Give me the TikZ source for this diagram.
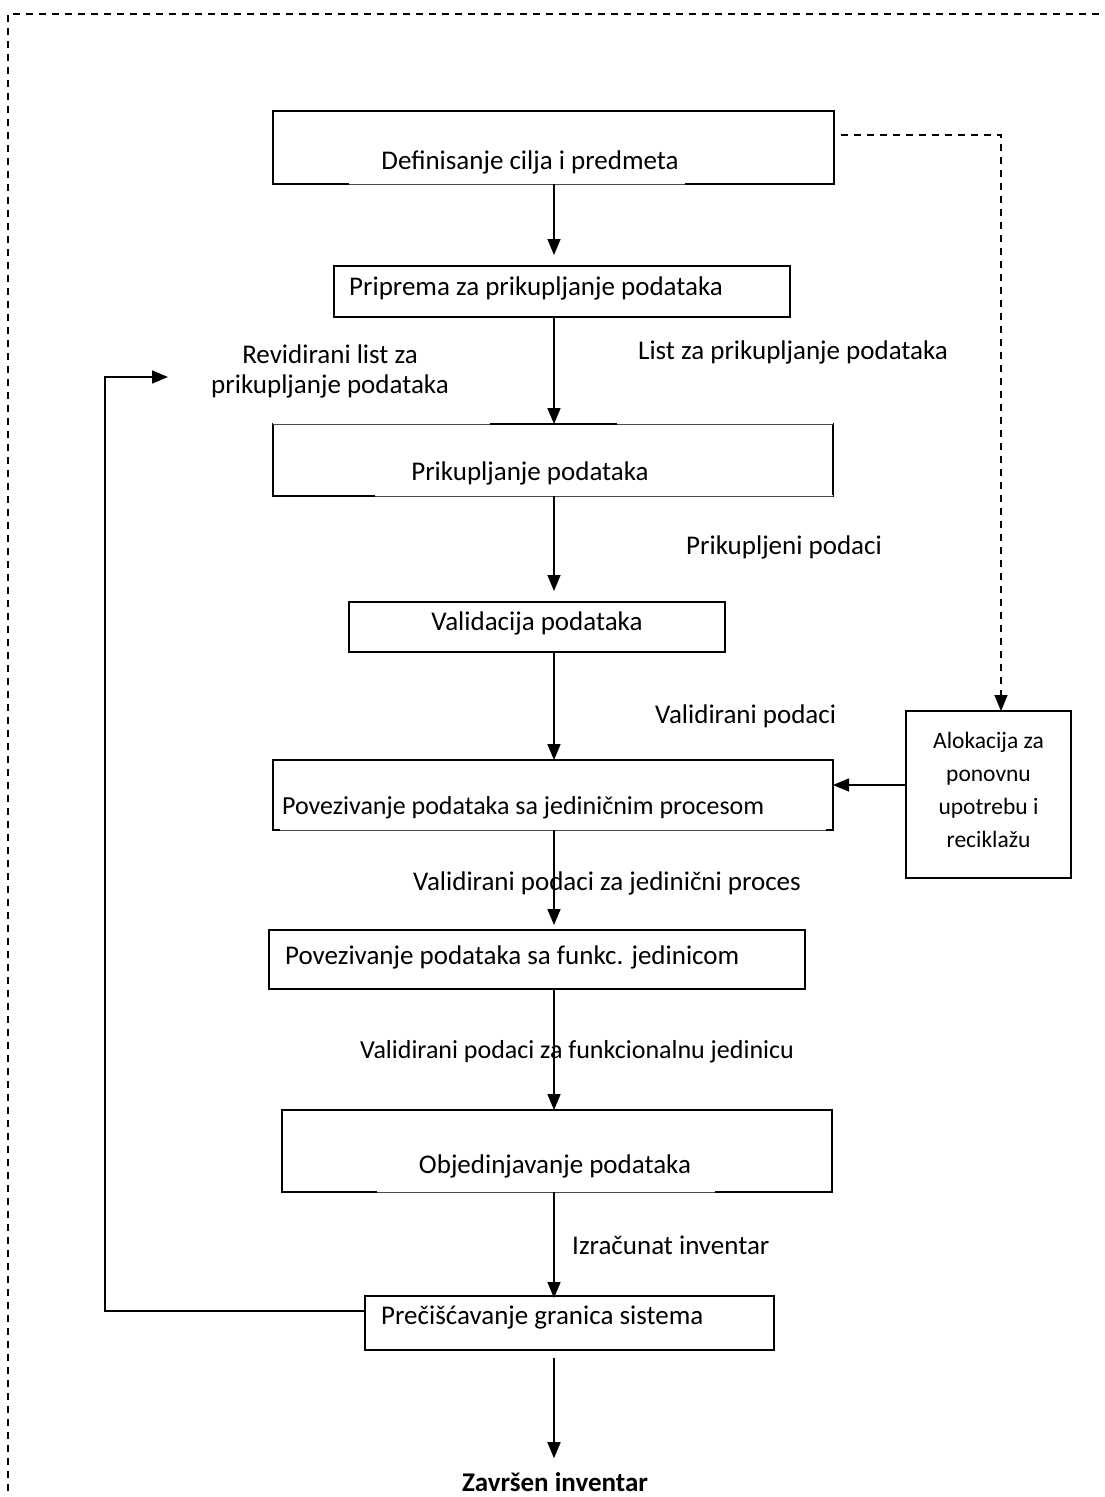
\documentclass[tikz,border=0pt]{standalone}
\usepackage{fontspec}
\setmainfont{Carlito}
\usetikzlibrary{arrows.meta,calc}
\begin{document}
\begin{tikzpicture}[x=1pt,y=-1pt,
  box/.style={draw,line width=1.6pt,inner sep=0pt,outer sep=0pt},
  txt/.style={font=\fontsize{27}{32}\selectfont,inner sep=0pt},
  arr/.style={line width=1.6pt,-{Triangle[length=16pt,width=13pt]}},
  dasharr/.style={line width=1.6pt,dash pattern=on 7pt off 6pt,-{Triangle[length=16pt,width=13pt]}},
  frame/.style={line width=1.4pt,dash pattern=on 7pt off 6pt},
  thin/.style={line width=0.9pt,draw=black!70}]
\useasboundingbox (0,0) rectangle (1104,1497);
\clip (0,0) rectangle (1104,1497);

% outer dashed frame
\draw[frame] (8,1530) -- (8,14) -- (1130,14);

% main column of steps
\node[box,minimum width=561pt,minimum height=73pt] (b1) at (553.5,147.5) {};
\node[box,minimum width=456pt,minimum height=51pt] (b2) at (562,291.5) {};
\node[box,minimum width=560pt,minimum height=72pt] (b3) at (553,460) {};
\node[box,minimum width=376pt,minimum height=50pt] (b4) at (537,627) {};
\node[box,minimum width=560pt,minimum height=70pt] (b5) at (553,795) {};
\node[box,minimum width=536pt,minimum height=59pt] (b6) at (537,959.5) {};
\node[box,minimum width=550pt,minimum height=82pt] (b7) at (557,1151) {};
\node[box,minimum width=409pt,minimum height=54pt] (b8) at (569.5,1323) {};
\node[box,minimum width=165pt,minimum height=167pt] (alloc) at (988.5,794.5) {};

% lighter edge segments of the text frames
\draw[white,line width=2.4pt] (349,184) -- (685,184);
\draw[thin] (349,184) -- (685,184);
\draw[white,line width=2.4pt] (273,424) -- (490,424) (617,424) -- (833,424);
\draw[thin] (273,424) -- (490,424) (617,424) -- (833,424);
\draw[white,line width=2.4pt] (375,496) -- (833,496);
\draw[thin] (375,496) -- (833,496);
\draw[white,line width=2.4pt] (280,830) -- (826,830);
\draw[thin] (280,830) -- (826,830);
\draw[white,line width=2.4pt] (377,1192) -- (715,1192);
\draw[thin] (377,1192) -- (715,1192);

% texts in the boxes
\node[txt] (t1) at (530,162) {Definisanje cilja i predmeta};
\node[txt,anchor=west] (t2) at (349,288) {Priprema za prikupljanje podataka};
\node[txt] (t3) at (530,473) {Prikupljanje podataka};
\node[txt] (t4) at (537,623) {Validacija podataka};
\node[txt,anchor=west,font=\fontsize{26}{30}\selectfont] (t5) at (282,808) {Povezivanje podataka sa jediničnim procesom};
\node[txt,anchor=west] (t6) at (285,957) {Povezivanje podataka sa funkc. jedinicom};
\node[txt] (t7) at (555,1166) {Objedinjavanje podataka};
\node[txt,anchor=west] (t8) at (381,1318) {Prečišćavanje granica sistema};
\node[txt,align=center,font=\fontsize{23.5}{33}\selectfont] (t9) at (988.5,790) {Alokacija za\\ponovnu\\upotrebu i\\reciklažu};

% flow labels
\node[txt,align=center,font=\fontsize{27}{30}\selectfont] (lrev) at (330,371) {Revidirani list za\\prikupljanje podataka};
\node[txt,anchor=west] (l1) at (638,352) {List za prikupljanje podataka};
\node[txt,anchor=west] (l2) at (686,547) {Prikupljeni podaci};
\node[txt,anchor=west] (l3) at (655,716) {Validirani podaci};
\node[txt,anchor=west] (l4) at (413,883) {Validirani podaci za jedinični proces};
\node[txt,anchor=west,font=\fontsize{26}{30}\selectfont] (l5) at (360,1052) {Validirani podaci za funkcionalnu jedinicu};
\node[txt,anchor=west] (l6) at (572,1245) {Izračunat inventar};
\node[txt,font=\fontsize{27}{32}\selectfont\bfseries] (fin) at (555,1482) {Završen inventar};

% vertical flow
\coordinate (ax) at (554,0);
\draw[arr,shorten >=11pt] (b1.south -| ax) -- (b2.north -| ax);
\draw[arr] (b2.south -| ax) -- (b3.north -| ax);
\draw[arr,shorten >=11pt] (b3.south -| ax) -- (b4.north -| ax);
\draw[arr] (b4.south -| ax) -- (b5.north -| ax);
\draw[arr,shorten >=5pt] (b5.south -| ax) -- (b6.north -| ax);
\draw[arr] (b6.south -| ax) -- (b7.north -| ax);
\draw[arr,shorten >=-2pt] (b7.south -| ax) -- (b8.north -| ax);
\draw[arr,shorten <=8pt,shorten >=14pt] (b8.south -| ax) -- (fin.north -| ax);

% allocation branch
\coordinate (dx) at (1001,0);
\draw[dasharr,shorten <=7pt] (b1.east |- 0,135) -- (dx |- 0,135) -- (alloc.north -| dx);
\draw[arr] (alloc.west |- 0,785) -- (b5.east |- 0,785);

% feedback loop
\coordinate (fb) at (168,377);
\draw[arr] (b8.west |- 0,1311) -- (105,1311) -- (105,377) -- (fb);
\end{tikzpicture}
\end{document}
